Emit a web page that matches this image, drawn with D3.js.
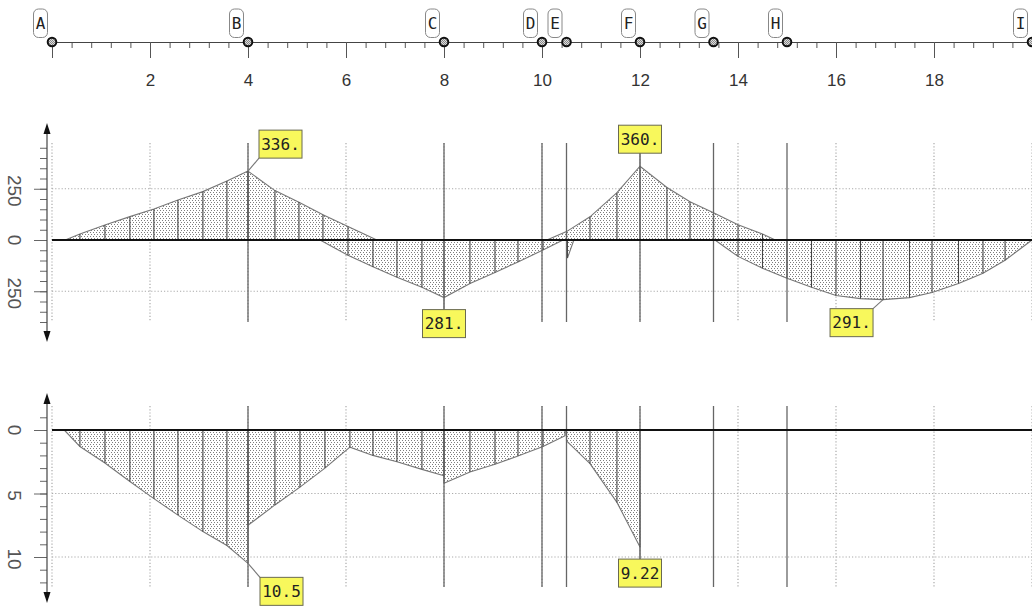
<!DOCTYPE html>
<html><head><meta charset="utf-8">
<script src="https://cdn.jsdelivr.net/npm/d3@7"></script>
<style>body{margin:0;background:#fff}svg{display:block}</style>
</head><body><svg id="c" width="1032" height="608"></svg>
<script>
// ---------- DATA ----------
const nodeNames = ["A","B","C","D","E","F","G","H","I"];
const nodePositions = [0,4,8,10,10.5,12,13.5,15,20];
const xMinorTicks = d3.range(0, 20.001, 0.4);
const xMajorTicks = [0,2,4,6,8,10,12,14,16,18,20];
const xGrid = [0,2,4,6,8,10,12,14,16,18,20];

// bending moment (positive = up)
const momentAB   = [[0.27,0],[0.57,29],[1.08,73],[1.59,114],[2.08,151],[2.57,195],[3.08,236],[3.57,288],[4,336]];
const momentBpos = [[4,336],[4.55,241],[5.04,184],[5.53,123],[6.04,66],[6.63,0]];
const momentBCneg= [[5.47,0],[6.04,-74],[6.55,-131],[7.04,-182],[7.55,-230],[8,-281],[8.53,-212],[9.04,-158],[9.51,-107],[10.02,-49],[10.43,0]];
const momentEspike = [[10.5,0],[10.52,-88],[10.65,0]];
const momentEG   = [[10.1,0],[10.5,41],[10.98,113],[11.53,231],[12,360],[12.55,256],[13.02,187],[13.5,133],[14,74],[14.5,29],[14.76,0]];
const momentGI   = [[13.53,0],[14,-80],[14.5,-138],[15,-187],[15.5,-231],[16,-271],[16.5,-286],[16.96,-291],[17.5,-281],[17.96,-256],[18.5,-212],[19,-162],[19.45,-99],[20,0]];
const momentTicksMinor = d3.range(-400, 451, 50);
const momentTicksMajor = [-250, 0, 250];
const momentTickLabels = ["250","0","250"];

// deflection (positive = down)
const deflAB = [[0.25,0],[0.57,1.3],[1.08,2.6],[1.59,4.05],[2.08,5.4],[2.57,6.7],[3.08,8.0],[3.57,9.1],[4,10.5]];
const deflBC = [[4,7.5],[4.55,5.9],[5.06,4.5],[5.57,3.0],[6.08,1.35],[6.55,2.0],[7.04,2.5],[7.55,3.1],[8,3.6]];
const deflCE = [[8,4.2],[8.53,3.3],[9.04,2.7],[9.51,2.05],[10.02,1.3],[10.47,0.45]];
const deflEF = [[10.5,0.85],[10.98,2.65],[11.53,5.7],[12,9.22]];
const deflTicksMinor = d3.range(-1, 12.001, 1);
const deflTicksMajor = [0, 5, 10];
const deflTickLabels = ["0","5","10"];

// callouts
const calloutPanel = ["moment","moment","moment","moment","defl","defl"];
const calloutX     = [4, 12, 8, 16.96, 4, 12];
const calloutValue = [336, 360, -281, -291, 10.5, 9.22];
const calloutText  = ["336.","360.","281.","291.","10.5","9.22"];

// ---------- DRAW ----------
const svg = d3.select("#c");
const x  = d3.scaleLinear().domain([0,20]).range([52,1032]);
const yM = d3.scaleLinear().domain([0,250]).range([240,188.75]);
const yD = d3.scaleLinear().domain([0,10]).range([430,557]);

const defs = svg.append("defs");
const pat = defs.append("pattern").attr("id","dots").attr("width",6).attr("height",4)
  .attr("patternUnits","userSpaceOnUse");
pat.append("rect").attr("width",6).attr("height",4).attr("fill","#fff");
[[0,0],[3,0],[1,2],[4,2]].forEach(p=>pat.append("rect").attr("x",p[0]).attr("y",p[1])
  .attr("width",1).attr("height",1).attr("fill","#7e7e7e"));
const npat = defs.append("pattern").attr("id","nodefill").attr("width",2).attr("height",2)
  .attr("patternUnits","userSpaceOnUse");
npat.append("rect").attr("width",2).attr("height",2).attr("fill","#ddd");
npat.append("rect").attr("width",1).attr("height",1).attr("fill","#888");
npat.append("rect").attr("x",1).attr("y",1).attr("width",1).attr("height",1).attr("fill","#888");

// ----- top axis -----
const gTop = svg.append("g").attr("transform","translate(0,42)");
gTop.call(d3.axisBottom(x).tickValues(xMinorTicks).tickSize(6).tickSizeOuter(0).tickFormat(""));
const gTop2 = svg.append("g").attr("transform","translate(0,42)");
gTop2.call(d3.axisBottom(x).tickValues(xMajorTicks).tickSize(16).tickSizeOuter(0).tickPadding(16)
  .tickFormat(d => (d===0||d===20) ? "" : d));
[gTop,gTop2].forEach(g=>{
  g.attr("font-size",null).attr("font-family",null);
  g.selectAll(".domain").attr("stroke","#444");
  g.selectAll(".tick line").attr("stroke","#555");
  g.selectAll(".tick text").style("font-family","'Liberation Sans', Arial, sans-serif")
    .style("font-size","17px").attr("fill","#333");
});
// nodes
const nodes = svg.append("g");
nodePositions.forEach((p,i)=>{
  const cx = x(p);
  nodes.append("rect").attr("x",cx-18.5).attr("y",9).attr("width",14).attr("height",28.5)
    .attr("rx",5).attr("fill","#fff").attr("stroke","#888").attr("stroke-width",1);
  nodes.append("text").attr("x",cx-11.5).attr("y",23.5).attr("dy","0.36em")
    .attr("text-anchor","middle").style("font-family","'DejaVu Sans Mono', monospace")
    .style("font-size","16px").attr("fill","#222").text(nodeNames[i]);
  nodes.append("circle").attr("cx",cx).attr("cy",42).attr("r",4.3)
    .attr("fill","url(#nodefill)").attr("stroke","#111").attr("stroke-width",2);
});

// ----- panels -----
function panel(cfg){
  const y = cfg.y, g = svg.append("g");
  g.selectAll(".vg").data(xGrid).join("line")
    .attr("x1",d=>x(d)).attr("x2",d=>x(d)).attr("y1",cfg.gTop).attr("y2",cfg.gBot)
    .attr("stroke","#aaa").attr("stroke-width",1.2).attr("stroke-dasharray","1.2,2");
  g.selectAll(".hg").data(cfg.gridY).join("line")
    .attr("x1",x(0)).attr("x2",x(20)).attr("y1",d=>y(d)).attr("y2",d=>y(d))
    .attr("stroke","#aaa").attr("stroke-width",1.2).attr("stroke-dasharray","1.2,2");
  const area = d3.area().x(d=>x(d[0])).y0(y(0)).y1(d=>y(d[1]));
  const line = d3.line().x(d=>x(d[0])).y(d=>y(d[1]));
  cfg.segments.forEach(seg=>{
    g.append("path").attr("d",area(seg)).attr("fill","url(#dots)").attr("stroke","none");
  });
  cfg.segments.forEach(seg=>{
    g.append("path").attr("d",line(seg)).attr("fill","none").attr("stroke","#777").attr("stroke-width",1.1);
    g.selectAll(null).data(seg.filter(d=>d[1]!==0)).join("line")
      .attr("x1",d=>x(d[0])).attr("x2",d=>x(d[0])).attr("y1",y(0)).attr("y2",d=>y(d[1]))
      .attr("stroke","#444").attr("stroke-width",1.1);
  });
  g.selectAll(".nl").data(nodePositions.slice(1,-1)).join("line")
    .attr("x1",d=>x(d)).attr("x2",d=>x(d)).attr("y1",cfg.gTop).attr("y2",cfg.gBot)
    .attr("stroke","#666").attr("stroke-width",1.3);
  g.append("line").attr("x1",x(0)).attr("x2",x(20)).attr("y1",y(0)).attr("y2",y(0))
    .attr("stroke","#111").attr("stroke-width",2.2);
  const ax = 47;
  const ga = g.append("g").attr("transform",`translate(${ax},0)`);
  ga.call(d3.axisLeft(y).tickValues(cfg.minor).tickSize(7).tickSizeOuter(0).tickFormat(""));
  ga.select(".domain").remove();
  const gb = g.append("g").attr("transform",`translate(${ax},0)`);
  gb.call(d3.axisLeft(y).tickValues(cfg.major).tickSize(13).tickSizeOuter(0).tickFormat(""));
  gb.select(".domain").remove();
  g.selectAll(".tick line").attr("stroke","#666");
  g.append("line").attr("x1",ax).attr("x2",ax).attr("y1",cfg.aTop+8).attr("y2",cfg.aBot-8)
    .attr("stroke","#444").attr("stroke-width",1.2);
  g.append("path").attr("d",`M${ax},${cfg.aTop} L${ax-3.5},${cfg.aTop+11} L${ax+3.5},${cfg.aTop+11} Z`).attr("fill","#111");
  g.append("path").attr("d",`M${ax},${cfg.aBot} L${ax-3.5},${cfg.aBot-11} L${ax+3.5},${cfg.aBot-11} Z`).attr("fill","#111");
  cfg.major.forEach((v,i)=>{
    const ty = y(v) + (v===0?0:2);
    g.append("text").attr("x",15).attr("y",ty).attr("dy","0.35em")
      .attr("transform",`rotate(90,15,${ty})`).attr("text-anchor","middle")
      .style("font-family","'Liberation Sans', Arial, sans-serif").style("font-size","19px")
      .attr("fill","#555").text(cfg.labels[i]);
  });
}
panel({y:yM, gTop:143, gBot:322, gridY:[250,-250], aTop:123, aBot:342,
  segments:[momentAB,momentBpos,momentBCneg,momentEspike,momentEG,momentGI],
  minor:momentTicksMinor, major:momentTicksMajor, labels:momentTickLabels});
panel({y:yD, gTop:406, gBot:587, gridY:[5,10], aTop:393, aBot:603,
  segments:[deflAB,deflBC,deflCE,deflEF],
  minor:deflTicksMinor, major:deflTicksMajor, labels:deflTickLabels});

// ----- callouts -----
const placement = ["upright","up","down","downleft","downright","down"];
const cg = svg.append("g");
calloutX.forEach((cx,i)=>{
  const y = calloutPanel[i]==="moment" ? yM : yD;
  const px = x(cx), py = y(calloutValue[i]);
  const w = 43, h = 28;
  let bx, by, lx, ly;
  switch(placement[i]){
    case "upright":  bx = px+11; by = py-41; lx = bx; ly = by+h; break;
    case "up":       bx = px-w/2; by = py-13-h; lx = px; ly = by+h; break;
    case "down":     bx = px-w/2; by = py+12; lx = px; ly = by; break;
    case "downleft": bx = px-10-w; by = py+9; lx = bx+w; ly = by; break;
    case "downright":bx = px+12; by = py+14; lx = bx; ly = by; break;
  }
  cg.append("line").attr("x1",px).attr("y1",py).attr("x2",lx).attr("y2",ly)
    .attr("stroke","#777").attr("stroke-width",1.1);
  cg.append("rect").attr("x",bx).attr("y",by).attr("width",w).attr("height",h)
    .attr("fill","#f8f85c").attr("stroke","#6a6a50").attr("stroke-width",1);
  cg.append("text").attr("x",bx+w/2).attr("y",by+h/2).attr("dy","0.36em")
    .attr("text-anchor","middle").style("font-family","'DejaVu Sans Mono', monospace")
    .style("font-size","16px").attr("fill","#222").text(calloutText[i]);
});
</script></body></html>
